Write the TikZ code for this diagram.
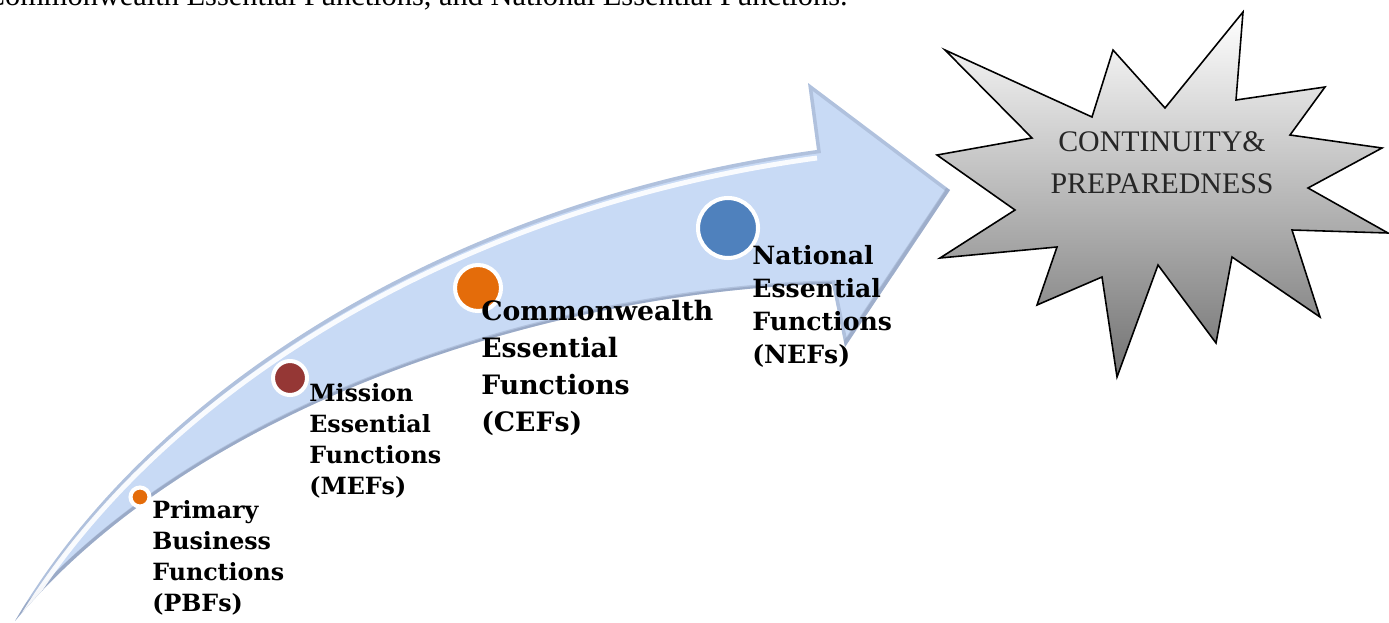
\documentclass[tikz,border=0pt]{standalone}
\usepackage{fontspec}
\setmainfont{Liberation Serif}
\newfontfamily\labelfont{DejaVu Serif}
\definecolor{arrowblue}{RGB}{200,218,245}
\definecolor{arrowshade}{RGB}{105,120,150}
\definecolor{pbforange}{RGB}{228,108,10}
\definecolor{mefred}{RGB}{149,55,53}
\definecolor{nefblue}{RGB}{79,129,189}

\begin{document}
\begin{tikzpicture}[x=0.02cm,y=-0.02cm,
    dot/.style={circle,draw=white,line width=2.3pt,inner sep=0pt},
    fn/.style={anchor=north west,inner sep=0pt,align=left,
      font=\labelfont\bfseries\fontsize{13.5}{17.6}\selectfont}]
    \useasboundingbox (0,0) rectangle (1389,622);
    \clip (0,0) rectangle (1389,622);

    % Cut text line at the top
    \node[anchor=base east,inner sep=0pt,font=\fontsize{17.3}{20}\selectfont] (intro) at (848,6)
      {Commonwealth Essential Functions, and National Essential Functions.};

    % Curved arrow
    \path[save path=\arrowpath]
      (15,621) .. controls (150,390) and (450,200) .. (817,150)
      -- (808,83) -- (950,190) -- (845,347) -- (832,284)
      .. controls (560,290) and (200,400) .. (15,621) -- cycle;
    \fill[arrowblue,use path=\arrowpath];
    \begin{scope}
      \path[clip,use path=\arrowpath];
      \draw[arrowshade,opacity=0.25,line width=4pt,use path=\arrowpath];
      % shadow on the lower edge
      \draw[arrowshade,opacity=0.3,line width=7pt]
        (832,288) .. controls (560,294) and (200,404) .. (15,625);
      \draw[arrowshade,opacity=0.25,line width=5pt] (950,190) -- (845,347);
      % highlight along the top edge
      \draw[white,opacity=0.9,line width=2.8pt]
        (15,629) .. controls (150,398) and (450,208) .. (817,158);
    \end{scope}

    % Stage dots
    \node[dot,fill=pbforange,minimum size=0.38cm] (pbfdot) at (140,497) {};
    \node[dot,fill=mefred,minimum size=0.68cm] (mefdot) at (290,378) {};
    \node[dot,fill=pbforange,minimum size=0.92cm] (cefdot) at (478,288) {};
    \node[dot,fill=nefblue,minimum size=1.2cm] (nefdot) at (728,228) {};

    % Stage labels
    \node[fn] (pbf) at (152,500) {Primary\\Business\\Functions\\(PBFs)};
    \node[fn] (mef) at (309,383) {Mission\\Essential\\Functions\\(MEFs)};
    \node[fn,font=\labelfont\bfseries\fontsize{15.2}{21}\selectfont] (cef) at (481,300)
      {Commonwealth\\Essential\\Functions\\(CEFs)};
    \node[fn,font=\labelfont\bfseries\fontsize{14.3}{18.7}\selectfont] (nef) at (752,245)
      {National\\Essential\\Functions\\(NEFs)};

    % Star
    \filldraw[top color=white,middle color=white!82!black,bottom color=black!55,
      draw=black,line width=0.9pt]
      (945,50) -- (1092,117) -- (1113,50) -- (1165,108) -- (1243,12) -- (1236,100)
      -- (1325,87) -- (1290,135) -- (1382,148) -- (1308,188) -- (1388,233) -- (1292,230)
      -- (1320,317) -- (1232,257) -- (1216,343) -- (1158,265) -- (1117,377) -- (1102,277)
      -- (1037,305) -- (1057,247) -- (940,258) -- (1015,210) -- (937,155) -- (1032,138)
      -- cycle;
    \node[align=center,text=black!85,font=\fontsize{17}{24}\selectfont] (goal) at (1162,163)
      {CONTINUITY\&\\PREPAREDNESS};
\end{tikzpicture}
\end{document}
